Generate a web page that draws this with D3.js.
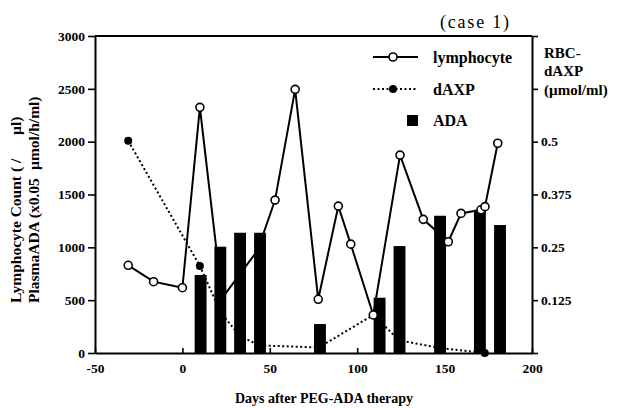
<!DOCTYPE html>
<html>
<head>
<meta charset="utf-8">
<style>
body { margin: 0; background: #fff; }
svg { display: block; }
text { font-family: "Liberation Serif", "Times New Roman", serif; fill: #000; }
</style>
</head>
<body>
<div id="chart"></div>
<script src="https://d3js.org/d3.v7.min.js"></script>
<script>

// data
var lymphDays  = [-31, -16.5, 0, 10, 22.7, 43, 53, 64.5, 77.7, 89.2, 96.3, 109.2, 124.5, 137.8, 152.1, 159.4, 170.8, 173.1, 180.4];
var lymphCount = [830, 675, 618, 2325, 520, 970, 1447, 2495, 508, 1390, 1030, 360, 1873, 1265, 1053, 1321, 1355, 1385, 1985];

var dAXPDays  = [-31, 10, 22, 33, 44, 78, 109.2, 124, 147, 173];
var dAXPValue = [0.502, 0.206, 0.095, 0.04, 0.018, 0.013, 0.09, 0.03, 0.012, 0];

var adaDays  = [10.4, 21.7, 33, 44.4, 78.7, 112.8, 124.2, 147.4, 170.2, 181.7];
var adaValue = [738, 1006, 1138, 1138, 274, 523, 1012, 1299, 1350, 1211];

var xTicks = [-50, 0, 50, 100, 150, 200];
var yTicks = [0, 500, 1000, 1500, 2000, 2500, 3000];
var rTicks = [0, 0.125, 0.25, 0.375, 0.5, 0.625, 0.75];
var rLabels = ["", "0.125", "0.25", "0.375", "0.5", "", ""];

var W = 618, H = 408;
var pLeft = 95, pRight = 532, pTop = 36, pBottom = 353;
var barHalf = 3.4; // days

var svg = d3.select("#chart").append("svg")
    .attr("width", W)
    .attr("height", H);

var x = d3.scaleLinear().domain([-50, 200]).range([pLeft, pRight]);
var y = d3.scaleLinear().domain([0, 3000]).range([pBottom, pTop]);
var yR = d3.scaleLinear().domain([0, 0.75]).range([pBottom, pTop]);

// bars (ADA)
svg.append("g").selectAll("rect")
   .data(d3.zip(adaDays, adaValue))
   .enter().append("rect")
   .attr("x", function(d) { return x(d[0] - barHalf); })
   .attr("width", function(d) { return x(d[0] + barHalf) - x(d[0] - barHalf); })
   .attr("y", function(d) { return y(d[1]); })
   .attr("height", function(d) { return y(0) - y(d[1]); })
   .style("fill", "#000");

// dAXP dotted line
var dLine = d3.line()
    .x(function(d) { return x(d[0]); })
    .y(function(d) { return yR(d[1]); });
var dData = d3.zip(dAXPDays, dAXPValue);
svg.append("path")
   .attr("d", dLine(dData))
   .style("fill", "none")
   .style("stroke", "#000")
   .style("stroke-width", 2)
   .style("stroke-dasharray", "2,2.5");

// lymphocyte line
var lLine = d3.line()
    .x(function(d) { return x(d[0]); })
    .y(function(d) { return y(d[1]); });
var lData = d3.zip(lymphDays, lymphCount);
svg.append("path")
   .attr("d", lLine(lData))
   .style("fill", "none")
   .style("stroke", "#000")
   .style("stroke-width", 2);

// dAXP dots (skip ones hidden in bars)
svg.append("g").selectAll("circle")
   .data([dData[0], dData[1], dData[9]])
   .enter().append("circle")
   .attr("cx", function(d) { return x(d[0]); })
   .attr("cy", function(d) { return yR(d[1]); })
   .attr("r", 4)
   .style("fill", "#000");

// lymphocyte open circles (two are hidden inside bars)
svg.append("g").selectAll("circle")
   .data(lData.filter(function(d, i) { return i != 4 && i != 5; }))
   .enter().append("circle")
   .attr("cx", function(d) { return x(d[0]); })
   .attr("cy", function(d) { return y(d[1]); })
   .attr("r", 4)
   .style("fill", "#fff")
   .style("stroke", "#000")
   .style("stroke-width", 1.6);

// axes
var gx = svg.append("g")
   .attr("transform", "translate(0," + pBottom + ")")
   .call(d3.axisBottom(x).tickValues(xTicks).tickSize(-5).tickSizeOuter(0).tickPadding(10)
        .tickFormat(function(d) { return String(d); }));
var gy = svg.append("g")
   .attr("transform", "translate(" + pLeft + ",0)")
   .call(d3.axisLeft(y).tickValues(yTicks).tickSize(7).tickSizeOuter(0).tickPadding(3)
        .tickFormat(function(d) { return String(d); }));
var gr = svg.append("g")
   .attr("transform", "translate(" + pRight + ",0)")
   .call(d3.axisRight(yR).tickValues(rTicks).tickSize(6).tickSizeOuter(0).tickPadding(3)
        .tickFormat(function(d, i) { return rLabels[i]; }));

[gx, gy, gr].forEach(function(g) {
  g.select(".domain").style("stroke-width", 2);
  g.selectAll(".tick line").style("stroke-width", 1.6);
  g.selectAll("text")
   .style("font-family", "'Liberation Serif', serif")
   .style("font-weight", "bold")
   .style("font-size", "13.5px");
});

// top frame line
svg.append("line")
   .attr("x1", pLeft).attr("x2", pRight)
   .attr("y1", pTop).attr("y2", pTop)
   .style("stroke", "#000")
   .style("stroke-width", 2);

// titles
svg.append("text")
   .text("(case 1)")
   .attr("x", 440).attr("y", 28)
   .attr("textLength", 69)
   .style("font-size", "18px");

svg.append("text")
   .text("Days after PEG-ADA therapy")
   .attr("x", 324).attr("y", 403)
   .style("text-anchor", "middle")
   .style("font-weight", "bold")
   .style("font-size", "14px");

var yt = [["Lymphocyte Count ( /", 21, 303], ["\u00b5l)", 21, 135],
          ["PlasmaADA (x0.05", 39, 303], ["\u00b5mol/h/ml)", 39, 170]];
yt.forEach(function(t) {
  svg.append("text")
     .text(t[0])
     .attr("transform", "translate(" + t[1] + "," + t[2] + ") rotate(-90)")
     .style("font-weight", "bold")
     .style("font-size", "15.5px");
});

var rt = [["RBC-", 58, "bold"], ["dAXP", 76, "bold"], ["(\u00b5mol/ml)", 95, "bold"]];
rt.forEach(function(t) {
  svg.append("text")
     .text(t[0])
     .attr("x", 544).attr("y", t[1])
     .style("font-weight", t[2])
     .style("font-size", "15px");
});

// legend
var lg = svg.append("g");
lg.append("line").attr("x1", 373).attr("x2", 418).attr("y1", 57).attr("y2", 57)
  .style("stroke", "#000").style("stroke-width", 2);
lg.append("circle").attr("cx", 393).attr("cy", 57).attr("r", 4)
  .style("fill", "#fff").style("stroke", "#000").style("stroke-width", 1.6);
lg.append("line").attr("x1", 373).attr("x2", 418).attr("y1", 89).attr("y2", 89)
  .style("stroke", "#000").style("stroke-width", 2).style("stroke-dasharray", "2,2.5");
lg.append("circle").attr("cx", 393).attr("cy", 89).attr("r", 4).style("fill", "#000");
lg.append("rect").attr("x", 407).attr("y", 115).attr("width", 11).attr("height", 11)
  .style("fill", "#000");
[["lymphocyte", 63], ["dAXP", 95], ["ADA", 126]].forEach(function(t) {
  lg.append("text").text(t[0])
    .attr("x", 433).attr("y", t[1])
    .style("font-weight", "bold")
    .style("font-size", "16px");
});

</script>
</body>
</html>
